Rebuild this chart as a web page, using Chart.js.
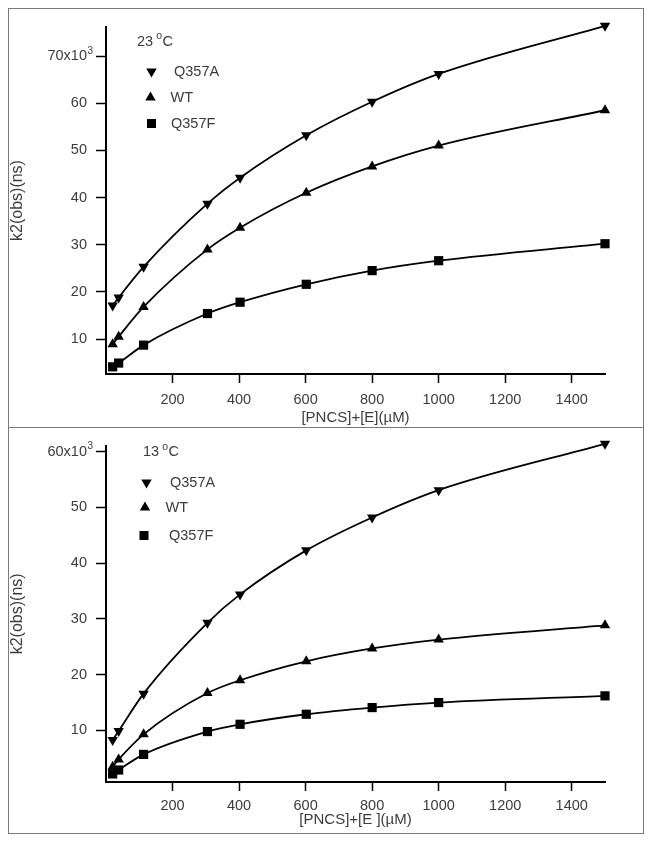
<!DOCTYPE html>
<html>
<head>
<meta charset="utf-8">
<script src="https://cdn.jsdelivr.net/npm/chart.js@4/dist/chart.umd.min.js"></script>
<style>
  html, body { margin: 0; padding: 0; background: #fff; }
  body { width: 651px; height: 844px; position: relative; overflow: hidden; }
  #frame { position: absolute; left: 8px; top: 8px; width: 636px; height: 826px;
           box-sizing: border-box; border: 1.5px solid #7a7a7a; }
  #divider { position: absolute; left: 8px; top: 426.5px; width: 636px; height: 0;
             border-top: 1.5px solid #7a7a7a; }
  .wrap { position: absolute; left: 9px; width: 633px; }
  #w1 { top: 9px; height: 417px; }
  #w2 { top: 428px; height: 405px; }
</style>
</head>
<body>
<div id="frame"></div>
<div id="divider"></div>
<div class="wrap" id="w1"><canvas id="c1" width="633" height="417"></canvas></div>
<div class="wrap" id="w2"><canvas id="c2" width="633" height="405"></canvas></div>
<script>
// ---------- data ----------
const concentration = [20, 38, 113, 305, 403, 602, 800, 1000, 1500];
const xTicks = [200, 400, 600, 800, 1000, 1200, 1400];

// 23 °C panel
const q357aAt23 = [17.1, 18.8, 25.3, 38.7, 44.2, 53.2, 60.3, 66.2, 76.4];
const wtAt23    = [8.9, 10.5, 16.8, 29.0, 33.6, 41.0, 46.6, 51.0, 58.5];
const q357fAt23 = [4.1, 4.9, 8.7, 15.4, 17.8, 21.6, 24.5, 26.6, 30.2];
const yTicks23  = [10, 20, 30, 40, 50, 60, 70];

// 13 °C panel
const q357aAt13 = [8.3, 9.9, 16.6, 29.3, 34.4, 42.3, 48.2, 53.1, 61.4];
const wtAt13    = [3.5, 4.8, 9.3, 16.7, 19.0, 22.4, 24.7, 26.3, 28.85];
const q357fAt13 = [2.2, 2.9, 5.7, 9.8, 11.1, 12.9, 14.1, 15.0, 16.2];
const yTicks13  = [10, 20, 30, 40, 50, 60];

const seriesLabels = ['Q357A', 'WT', 'Q357F'];

// ---------- styling ----------
const FONT = '"Liberation Sans", Arial, Helvetica, sans-serif';
const TEXT = '#3c3c3c';
const Y_TICK_LEN = 10, Y_TICK_PAD = 9;

function pts(ys) { return concentration.map((x, i) => ({ x: x, y: ys[i] })); }

function drawMarker(ctx, style, x, y) {
  ctx.beginPath();
  if (style === 'down') {
    const r = 6;
    ctx.moveTo(x - r * 0.866, y - r * 0.5);
    ctx.lineTo(x + r * 0.866, y - r * 0.5);
    ctx.lineTo(x, y + r);
  } else if (style === 'up') {
    const r = 6;
    ctx.moveTo(x - r * 0.866, y + r * 0.5);
    ctx.lineTo(x + r * 0.866, y + r * 0.5);
    ctx.lineTo(x, y - r);
  } else {
    ctx.rect(x - 4.5, y - 4.5, 9, 9);
  }
  ctx.closePath();
  ctx.fillStyle = '#000';
  ctx.fill();
}

const decorPlugin = {
  id: 'panelDecor',
  afterDraw(chart, args, opts) {
    const ctx = chart.ctx;
    ctx.save();
    ctx.textBaseline = 'middle';
    ctx.textAlign = 'left';
    ctx.fillStyle = TEXT;
    // temperature label with superscript o
    const t = opts.temp;
    ctx.font = '14.5px ' + FONT;
    const numTxt = t.num + ' ';
    ctx.fillText(numTxt, t.x, t.y);
    const w1 = ctx.measureText(numTxt).width;
    ctx.font = '10.5px ' + FONT;
    ctx.fillText('o', t.x + w1 - 1, t.y - 5);
    const w2 = ctx.measureText('o').width;
    ctx.font = '14.5px ' + FONT;
    ctx.fillText('C', t.x + w1 + w2 - 0.5, t.y);
    // legend entries
    opts.entries.forEach(e => {
      drawMarker(ctx, e.style, e.mx, e.my);
      ctx.fillStyle = TEXT;
      ctx.font = '14.5px ' + FONT;
      ctx.fillText(e.label, e.tx, e.my);
    });
    // superscript 3 on top y tick label
    const ys = chart.scales.y;
    const py = ys.getPixelForValue(opts.expTick);
    ctx.font = '10px ' + FONT;
    ctx.fillStyle = TEXT;
    ctx.fillText('3', ys.right - Y_TICK_LEN - Y_TICK_PAD + 0.5, py - 5);
    ctx.restore();
  }
};

function makeChart(canvasId, cfg) {
  const datasets = [
    { label: seriesLabels[0], data: pts(cfg.a), pointStyle: 'triangle', rotation: 180, pointRadius: 6 },
    { label: seriesLabels[1], data: pts(cfg.w), pointStyle: 'triangle', rotation: 0, pointRadius: 6 },
    { label: seriesLabels[2], data: pts(cfg.f), pointStyle: 'rect', pointRadius: 6.5 }
  ].map(d => Object.assign(d, {
    showLine: true,
    borderColor: '#000',
    borderWidth: 1.8,
    backgroundColor: '#000',
    pointBackgroundColor: '#000',
    pointBorderColor: '#000',
    pointBorderWidth: 0,
    cubicInterpolationMode: 'monotone',
    fill: false,
    clip: false
  }));

  return new Chart(document.getElementById(canvasId), {
    type: 'scatter',
    data: { datasets: datasets },
    plugins: [decorPlugin],
    options: {
      responsive: false,
      animation: false,
      events: [],
      layout: { padding: { left: 0, right: 37, top: cfg.padTop, bottom: 0 } },
      plugins: {
        legend: { display: false },
        tooltip: { enabled: false },
        panelDecor: { temp: cfg.temp, entries: cfg.entries, expTick: cfg.yTicks[cfg.yTicks.length - 1] }
      },
      scales: {
        x: {
          type: 'linear',
          min: 0, max: 1500,
          afterFit: s => { s.height = cfg.xHeight; },
          afterBuildTicks: s => { s.ticks = xTicks.map(v => ({ value: v })); },
          ticks: { color: TEXT, font: { family: FONT, size: 14.5 }, padding: cfg.xPad, maxRotation: 0, autoSkip: false,
                   callback: v => String(v) },
          grid: { display: true, drawOnChartArea: false, drawTicks: true, tickLength: 9, tickWidth: 1.5, tickColor: '#000' },
          border: { display: true, color: '#000', width: 2 },
          title: { display: true, text: cfg.xTitle, color: TEXT, font: { family: FONT, size: 15, lineHeight: 1 },
                   padding: { top: 0, bottom: cfg.xTitlePad } }
        },
        y: {
          type: 'linear',
          min: cfg.yMin, max: cfg.yMax,
          afterFit: s => { s.width = 97; },
          afterBuildTicks: s => { s.ticks = cfg.yTicks.map(v => ({ value: v })); },
          ticks: {
            color: TEXT, font: { family: FONT, size: 14.5 }, padding: Y_TICK_PAD, autoSkip: false,
            callback: v => (v === cfg.yTicks[cfg.yTicks.length - 1] ? v + 'x10' : String(v))
          },
          grid: { display: true, drawOnChartArea: false, drawTicks: true, tickLength: Y_TICK_LEN, tickWidth: 1.5, tickColor: '#000' },
          border: { display: true, color: '#000', width: 2 },
          title: { display: true, text: 'k2(obs)(ns)', color: TEXT, font: { family: FONT, size: 16, lineHeight: 1 },
                   padding: { top: 1, bottom: 0 } }
        }
      }
    }
  });
}

makeChart('c1', {
  a: q357aAt23, w: wtAt23, f: q357fAt23,
  yMin: 2.58, yMax: 76.15, yTicks: yTicks23,
  padTop: 18, xHeight: 52, xPad: 8, xTitlePad: 0.5,
  xTitle: '[PNCS]+[E](\u00B5M)',
  temp: { num: '23', x: 128, y: 32.5 },
  entries: [
    { style: 'down', mx: 142.5, my: 62.5, tx: 165, label: seriesLabels[0] },
    { style: 'up',   mx: 141.5, my: 88.5, tx: 161.5, label: seriesLabels[1] },
    { style: 'sq',   mx: 142.5, my: 114.5, tx: 162, label: seriesLabels[2] }
  ]
});

makeChart('c2', {
  a: q357aAt13, w: wtAt13, f: q357fAt13,
  yMin: 0.75, yMax: 61.07, yTicks: yTicks13,
  padTop: 17, xHeight: 51, xPad: 6, xTitlePad: 5.5,
  xTitle: '[PNCS]+[E ](\u00B5M)',
  temp: { num: '13', x: 134, y: 24 },
  entries: [
    { style: 'down', mx: 137.5, my: 54.5, tx: 161, label: seriesLabels[0] },
    { style: 'up',   mx: 136, my: 79.5, tx: 156.5, label: seriesLabels[1] },
    { style: 'sq',   mx: 135, my: 107.5, tx: 160, label: seriesLabels[2] }
  ]
});
</script>
</body>
</html>
